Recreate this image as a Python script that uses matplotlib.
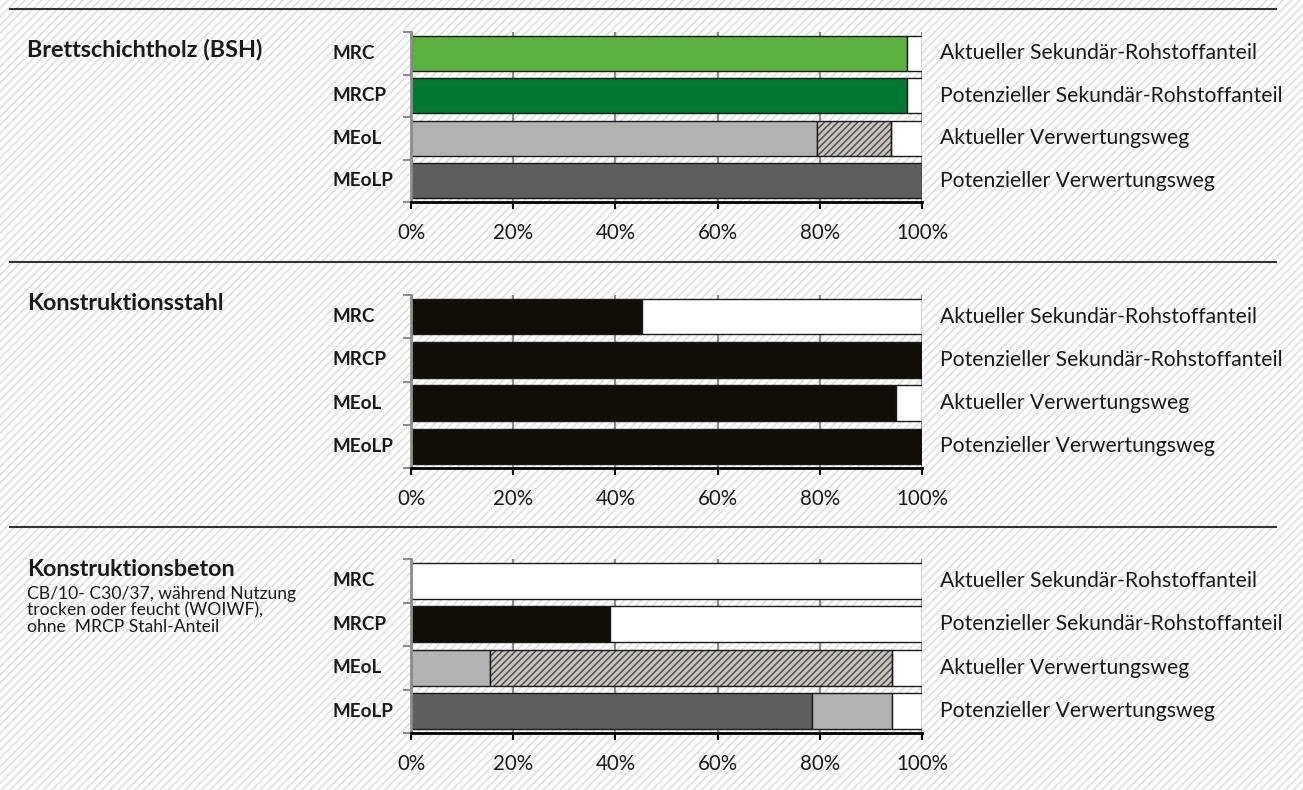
import matplotlib
matplotlib.use('Agg')
import matplotlib.pyplot as plt
from matplotlib.patches import Rectangle
from matplotlib.lines import Line2D
from matplotlib.ticker import FixedLocator, FuncFormatter
import matplotlib.transforms as mtransforms

plt.rcParams['font.family'] = ['Lato', 'DejaVu Sans']

# Daten (Anteile in %, Segmente von links nach rechts)
rows = ['MRC', 'MRCP', 'MEoL', 'MEoLP']
row_texts = ['Aktueller Sekundär-Rohstoffanteil', 'Potenzieller Sekundär-Rohstoffanteil',
             'Aktueller Verwertungsweg', 'Potenzieller Verwertungsweg']
titles = ['Brettschichtholz (BSH)', 'Konstruktionsstahl', 'Konstruktionsbeton']
beton_note = 'CB/10- C30/37, während Nutzung\ntrocken oder feucht (WOIWF),\nohne  MRCP Stahl-Anteil'
xticks = [0, 20, 40, 60, 80, 100]

bsh = [[97, 3], [97, 3], [79.5, 14.5, 6], [100]]
stahl = [[45.3, 54.7], [100], [95, 5], [100]]
beton = [[0, 100], [39, 61], [15.4, 78.8, 5.8], [78.5, 15.7, 5.8]]

# Farben je Segment
GREEN = '#5bb13d'
DGREEN = '#007a33'
LGRAY = '#b2b2b2'
DGRAY = '#5e5e5e'
BLACK = '#110d09'
bsh_fill = [[GREEN, 'white'], [DGREEN, 'white'], [LGRAY, 'hatch', 'white'], [DGRAY]]
stahl_fill = [[BLACK, 'white'], [BLACK], [BLACK, 'white'], [BLACK]]
beton_fill = [[BLACK, 'white'], [BLACK, 'white'], [LGRAY, 'hatch', 'white'], [DGRAY, LGRAY, 'white']]

W, H = 1303, 790
fig = plt.figure(figsize=(W / 100, H / 100), dpi=100)
fig.patch.set_facecolor('white')

# schraffierter Hintergrund
bg = Rectangle((0, 0), 1, 1, transform=fig.transFigure, facecolor='white',
               edgecolor='#e3e3e3', hatch='////', lw=0, zorder=-10)
try:
    bg.set_hatch_linewidth(1.4)
except AttributeError:
    pass
fig.patches.append(bg)

TXT = '#1a1a1a'

# Trennlinien
for y in [9, 262, 527]:
    fig.add_artist(Line2D([10 / W, 1276 / W], [1 - y / H, 1 - y / H], transform=fig.transFigure,
                          color='#333333', lw=1.5))

panels = [(bsh, bsh_fill, 32, 202), (stahl, stahl_fill, 295, 468), (beton, beton_fill, 559, 733)]
for values, fills, top, bottom in panels:
    ax = fig.add_axes([411 / W, 1 - bottom / H, (922 - 411) / W, (bottom - top) / H])
    ax.set_facecolor('none')
    for i, segs in enumerate(values):
        left = 0
        for v, f in zip(segs, fills[i]):
            if v > 0:
                if f == 'hatch':
                    b = ax.barh(i, v, left=left, height=0.82, color='#c8c4c0', edgecolor='#505050',
                                hatch='/////', lw=0, zorder=2)
                    for p in b:
                        try:
                            p.set_hatch_linewidth(1.1)
                        except AttributeError:
                            pass
                    ax.barh(i, v, left=left, height=0.82, fill=False, edgecolor='#1a1a1a', lw=1, zorder=3)
                else:
                    ax.barh(i, v, left=left, height=0.82, color=f, edgecolor='#1a1a1a', lw=1, zorder=2)
            left += v
    ax.set_xlim(0, 100)
    ax.set_ylim(3.5, -0.5)
    ax.set_axisbelow(True)
    ax.xaxis.set_major_locator(FixedLocator(xticks))
    ax.xaxis.set_major_formatter(FuncFormatter(lambda v, p: f'{v:.0f}%'))
    ax.grid(axis='x', color='#8c8c8c', lw=1.6, zorder=0)
    ax.tick_params(axis='x', direction='out', length=5, width=1.5, color='black',
                   labelsize=14.8, labelcolor=TXT, pad=10)
    ax.set_yticks([])
    ax.yaxis.set_minor_locator(FixedLocator([-0.5, 0.5, 1.5, 2.5, 3.5]))
    ax.tick_params(axis='y', which='minor', direction='out', length=6, width=1.5, color='#8c8c8c')
    for s in ['top', 'right']:
        ax.spines[s].set_visible(False)
    ax.spines['left'].set_color('#8c8c8c')
    ax.spines['left'].set_linewidth(2)
    ax.spines['bottom'].set_color('black')
    ax.spines['bottom'].set_linewidth(2)

    tr = mtransforms.blended_transform_factory(fig.transFigure, ax.transData)
    for i, (r, t) in enumerate(zip(rows, row_texts)):
        ax.text(333 / W, i, r, transform=tr, ha='left', va='center', fontsize=13.6,
                fontweight='bold', color=TXT)
        ax.text(940 / W, i, t, transform=tr, ha='left', va='center', fontsize=15.2, color=TXT)

# Titel links
fig.text(27 / W, 1 - 50 / H, titles[0], fontsize=16.8, fontweight='bold', color=TXT, va='center')
fig.text(27 / W, 1 - 303 / H, titles[1], fontsize=16.8, fontweight='bold', color=TXT, va='center')
fig.text(27 / W, 1 - 570 / H, titles[2], fontsize=16.8, fontweight='bold', color=TXT, va='center')
fig.text(27 / W, 1 - 586 / H, beton_note, fontsize=12.6, color=TXT, va='top', linespacing=1.05)

fig.savefig('out.png', dpi=100)
